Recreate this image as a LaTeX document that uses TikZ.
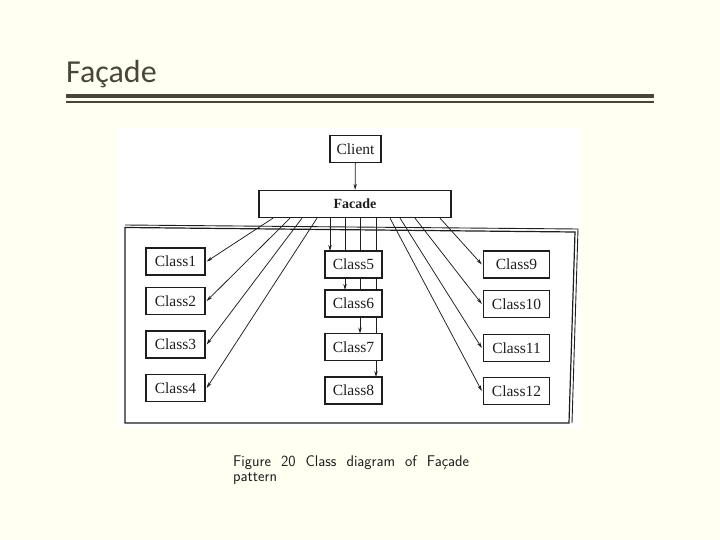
\documentclass[tikz,border=0pt]{standalone}
\usepackage{fontspec}
\newfontfamily\titlefont{Carlito}
\newfontfamily\boxfont{Liberation Serif}
\newfontfamily\boxboldfont{Liberation Serif Bold}
\usetikzlibrary{arrows.meta}
\definecolor{slidebg}{HTML}{FFFFF2}
\definecolor{titlegray}{HTML}{4A4637}
\definecolor{inkgray}{HTML}{1E1E1E}
\tikzset{
  classbox/.style={draw=inkgray,line width=1.3pt,fill=white,minimum height=27pt,inner sep=0pt,
    font=\boxfont\fontsize{15.5}{15.5}\selectfont,text=inkgray},
  link/.style={draw=inkgray,line width=0.75pt,-{Stealth[length=6pt,width=3.4pt]}},
  frameline/.style={draw=inkgray,line width=1.2pt}
}
\begin{document}
\begin{tikzpicture}[x=1pt,y=-1pt]
\fill[slidebg] (0,0) rectangle (720,540);
\useasboundingbox (0,0) rectangle (720,540);
% slide title
\node[anchor=base west,inner sep=0pt,text=titlegray,font=\titlefont\fontsize{32}{32}\selectfont] (title) at (66,83) {Façade};
\fill[titlegray] (66,94.5) rectangle (654,98.5);
\fill[titlegray] (66,101.5) rectangle (654,103.5);
% scanned figure
\fill[white] (118,128) rectangle (580,428);
\draw[frameline] (125,227.5) -- (575,232) -- (569,423) -- (125,423) -- cycle;
\draw[frameline,line width=0.9pt] (125,225) -- (578,229) -- (572,423);
\node[classbox,minimum width=51pt] (client) at (355.5,149) {Client};
\node[classbox,minimum width=192pt,font=\boxboldfont\fontsize{14}{14}\selectfont] (facade) at (355,204) {Facade};
\draw[link] (client) -- (facade);
% left column
\node[classbox,minimum width=59pt] (class1) at (175.5,261.5) {Class1};
\node[classbox,minimum width=59pt] (class2) at (175.5,301) {Class2};
\node[classbox,minimum width=59pt] (class3) at (175.5,344.5) {Class3};
\node[classbox,minimum width=59pt] (class4) at (175.5,388) {Class4};
\draw[link] ([xshift=-82pt]facade.south) -- ([xshift=1pt]class1.east);
\draw[link] ([xshift=-65pt]facade.south) -- ([xshift=1pt]class2.east);
\draw[link] ([xshift=-53pt]facade.south) -- ([xshift=1pt]class3.east);
\draw[link] ([xshift=-38pt]facade.south) -- ([xshift=1pt]class4.east);
% middle column, lines run behind the boxes
\draw[link] ([xshift=-25pt]facade.south) -- ([xshift=-25pt]facade.south |- 0,251);
\draw[link] ([xshift=-10pt]facade.south) -- ([xshift=-10pt]facade.south |- 0,290);
\draw[link] ([xshift=5pt]facade.south) -- ([xshift=5pt]facade.south |- 0,333.5);
\draw[link] ([xshift=21pt]facade.south) -- ([xshift=21pt]facade.south |- 0,377);
\node[classbox,minimum width=57pt] (class5) at (353.5,264.5) {Class5};
\node[classbox,minimum width=57pt] (class6) at (353.5,303.5) {Class6};
\node[classbox,minimum width=57pt] (class7) at (353.5,347) {Class7};
\node[classbox,minimum width=57pt] (class8) at (353.5,390.5) {Class8};
% right column
\node[classbox,minimum width=66pt] (class9) at (516.5,264.5) {Class9};
\node[classbox,minimum width=66pt] (class10) at (516.5,304) {Class10};
\node[classbox,minimum width=66pt] (class11) at (516.5,348) {Class11};
\node[classbox,minimum width=66pt] (class12) at (516.5,391) {Class12};
\draw[link] ([xshift=85pt]facade.south) -- ([xshift=-1pt]class9.west);
\draw[link] ([xshift=60pt]facade.south) -- ([xshift=-1pt]class10.west);
\draw[link] ([xshift=45pt]facade.south) -- ([xshift=-1pt]class11.west);
\draw[link] ([xshift=35pt]facade.south) -- ([xshift=-1pt]class12.west);
% caption
\node[anchor=base west,inner sep=0pt,text width=236pt,align=justify,text=inkgray,
  font=\sffamily\fontsize{15.5}{15.5}\selectfont] (caption) at (233,466) {Figure 20 Class diagram of Façade\linebreak pattern};
\end{tikzpicture}
\end{document}
